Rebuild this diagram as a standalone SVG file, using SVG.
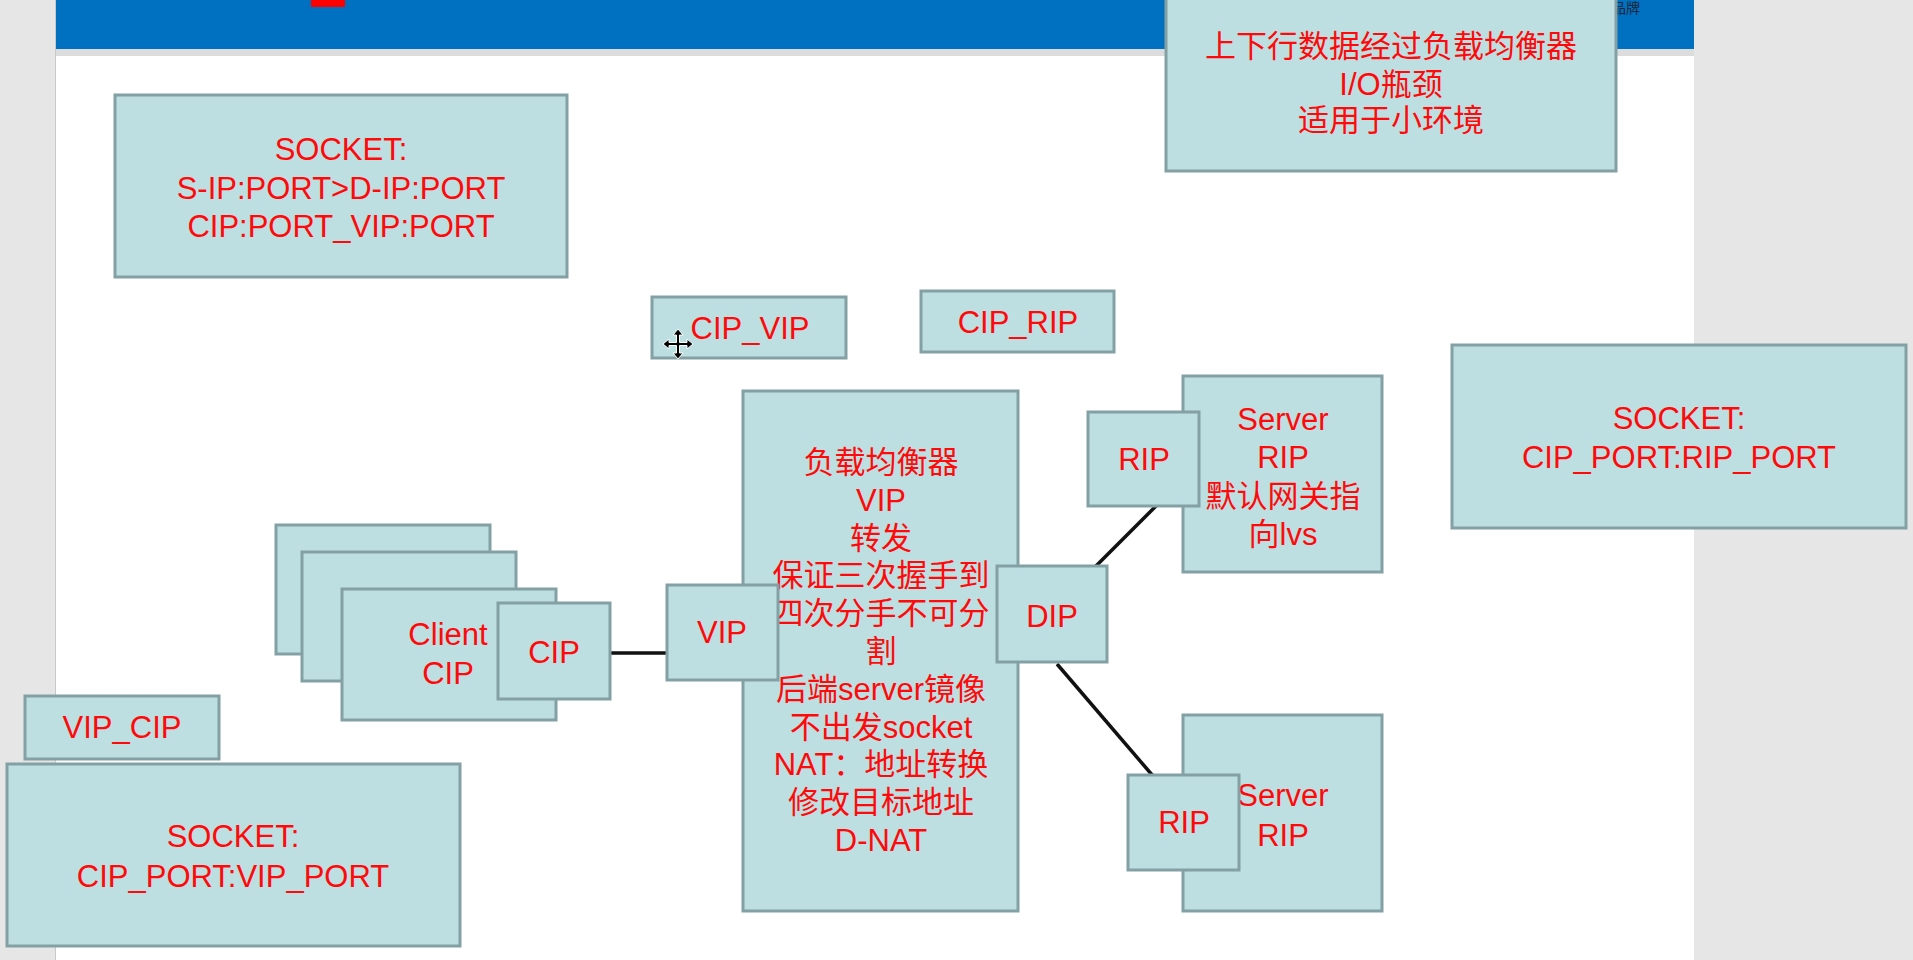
<svg xmlns="http://www.w3.org/2000/svg" width="1913" height="960" viewBox="0 0 1913 960">
<style>
.box{fill:#bddfe2;stroke:#83a0a4;stroke-width:3}
.t{font-family:"Liberation Sans","Noto Sans CJK SC",sans-serif;font-size:31px;fill:#ff0a0a;text-anchor:middle}
.conn{stroke:#111;stroke-width:3.5;fill:none}
</style>
<rect x="0" y="0" width="1913" height="960" fill="#e6e6e6"/>
<rect x="56" y="0" width="1638" height="960" fill="#ffffff"/>
<line x1="55.5" y1="0" x2="55.5" y2="960" stroke="#c8c8c8" stroke-width="1"/>
<rect x="56" y="49" width="1638" height="7" fill="#dcdcdc"/>
<rect x="56" y="0" width="1638" height="49" fill="#0070c0"/>
<rect x="311" y="0" width="34" height="7" fill="#ff0000"/>
<text x="1612" y="13" font-family="Noto Sans CJK SC,sans-serif" font-size="14" fill="#1b2738">品牌</text>

<g id="connectors">
<line class="conn" x1="610" y1="653" x2="668" y2="653"/>
<line class="conn" x1="1095" y1="567" x2="1156" y2="506"/>
<line class="conn" x1="1057" y1="664" x2="1153" y2="776"/>
</g>

<g id="note-top">
<rect class="box" x="1166" y="-5" width="450" height="176"/>
<text class="t" x="1391" y="57">上下行数据经过负载均衡器</text>
<text class="t" x="1391" y="95">I/O瓶颈</text>
<text class="t" x="1391" y="131">适用于小环境</text>
</g>

<g id="socket-top">
<rect class="box" x="115" y="95" width="452" height="182"/>
<text class="t" x="341" y="160">SOCKET:</text>
<text class="t" x="341" y="199">S-IP:PORT&gt;D-IP:PORT</text>
<text class="t" x="341" y="237">CIP:PORT_VIP:PORT</text>
</g>

<g id="cip-vip">
<rect class="box" x="652" y="297" width="194" height="61"/>
<text class="t" x="750" y="339">CIP_VIP</text>
</g>

<g id="cip-rip">
<rect class="box" x="921" y="291" width="193" height="61"/>
<text class="t" x="1018" y="333">CIP_RIP</text>
</g>

<g id="clients">
<rect class="box" x="276" y="525" width="214" height="129"/>
<rect class="box" x="302" y="552" width="214" height="129"/>
<rect class="box" x="342" y="589" width="214" height="131"/>
<text class="t" x="448" y="645">Client</text>
<text class="t" x="448" y="684">CIP</text>
</g>

<g id="cip">
<rect class="box" x="498" y="603" width="112" height="96"/>
<text class="t" x="554" y="663">CIP</text>
</g>

<g id="lb">
<rect class="box" x="743" y="391" width="275" height="520"/>
<text class="t" x="881" y="473">负载均衡器</text>
<text class="t" x="881" y="511">VIP</text>
<text class="t" x="881" y="549">转发</text>
<text class="t" x="881" y="586">保证三次握手到</text>
<text class="t" x="881" y="624">四次分手不可分</text>
<text class="t" x="881" y="662">割</text>
<text class="t" x="881" y="700">后端server镜像</text>
<text class="t" x="881" y="738">不出发socket</text>
<text class="t" x="881" y="775">NAT：地址转换</text>
<text class="t" x="881" y="813">修改目标地址</text>
<text class="t" x="881" y="851">D-NAT</text>
</g>

<g id="vip">
<rect class="box" x="667" y="585" width="111" height="95"/>
<text class="t" x="722" y="643">VIP</text>
</g>

<g id="dip">
<rect class="box" x="997" y="566" width="110" height="96"/>
<text class="t" x="1052" y="627">DIP</text>
</g>

<g id="server1">
<rect class="box" x="1183" y="376" width="199" height="196"/>
<text class="t" x="1283" y="430">Server</text>
<text class="t" x="1283" y="468">RIP</text>
<text class="t" x="1283" y="507">默认网关指</text>
<text class="t" x="1283" y="545">向lvs</text>
</g>

<g id="rip1">
<rect class="box" x="1088" y="412" width="111" height="94"/>
<text class="t" x="1144" y="470">RIP</text>
</g>

<g id="server2">
<rect class="box" x="1183" y="715" width="199" height="196"/>
<text class="t" x="1283" y="806">Server</text>
<text class="t" x="1283" y="846">RIP</text>
</g>

<g id="rip2">
<rect class="box" x="1128" y="775" width="111" height="95"/>
<text class="t" x="1184" y="833">RIP</text>
</g>

<g id="socket-right">
<rect class="box" x="1452" y="345" width="454" height="183"/>
<text class="t" x="1679" y="429">SOCKET:</text>
<text class="t" x="1679" y="468">CIP_PORT:RIP_PORT</text>
</g>

<g id="vip-cip">
<rect class="box" x="25" y="696" width="194" height="63"/>
<text class="t" x="122" y="738">VIP_CIP</text>
</g>

<g id="socket-bottom">
<rect class="box" x="7" y="764" width="453" height="182"/>
<text class="t" x="233" y="847">SOCKET:</text>
<text class="t" x="233" y="887">CIP_PORT:VIP_PORT</text>
</g>

<g id="cursor" transform="translate(678,344)" stroke="#fff" stroke-width="1" fill="#000">
<path d="M0,-15 L-5,-9 L-1.5,-9 L-1.5,-1.5 L-9,-1.5 L-9,-5 L-15,0 L-9,5 L-9,1.5 L-1.5,1.5 L-1.5,9 L-5,9 L0,15 L5,9 L1.5,9 L1.5,1.5 L9,1.5 L9,5 L15,0 L9,-5 L9,-1.5 L1.5,-1.5 L1.5,-9 L5,-9 Z"/>
</g>
</svg>
